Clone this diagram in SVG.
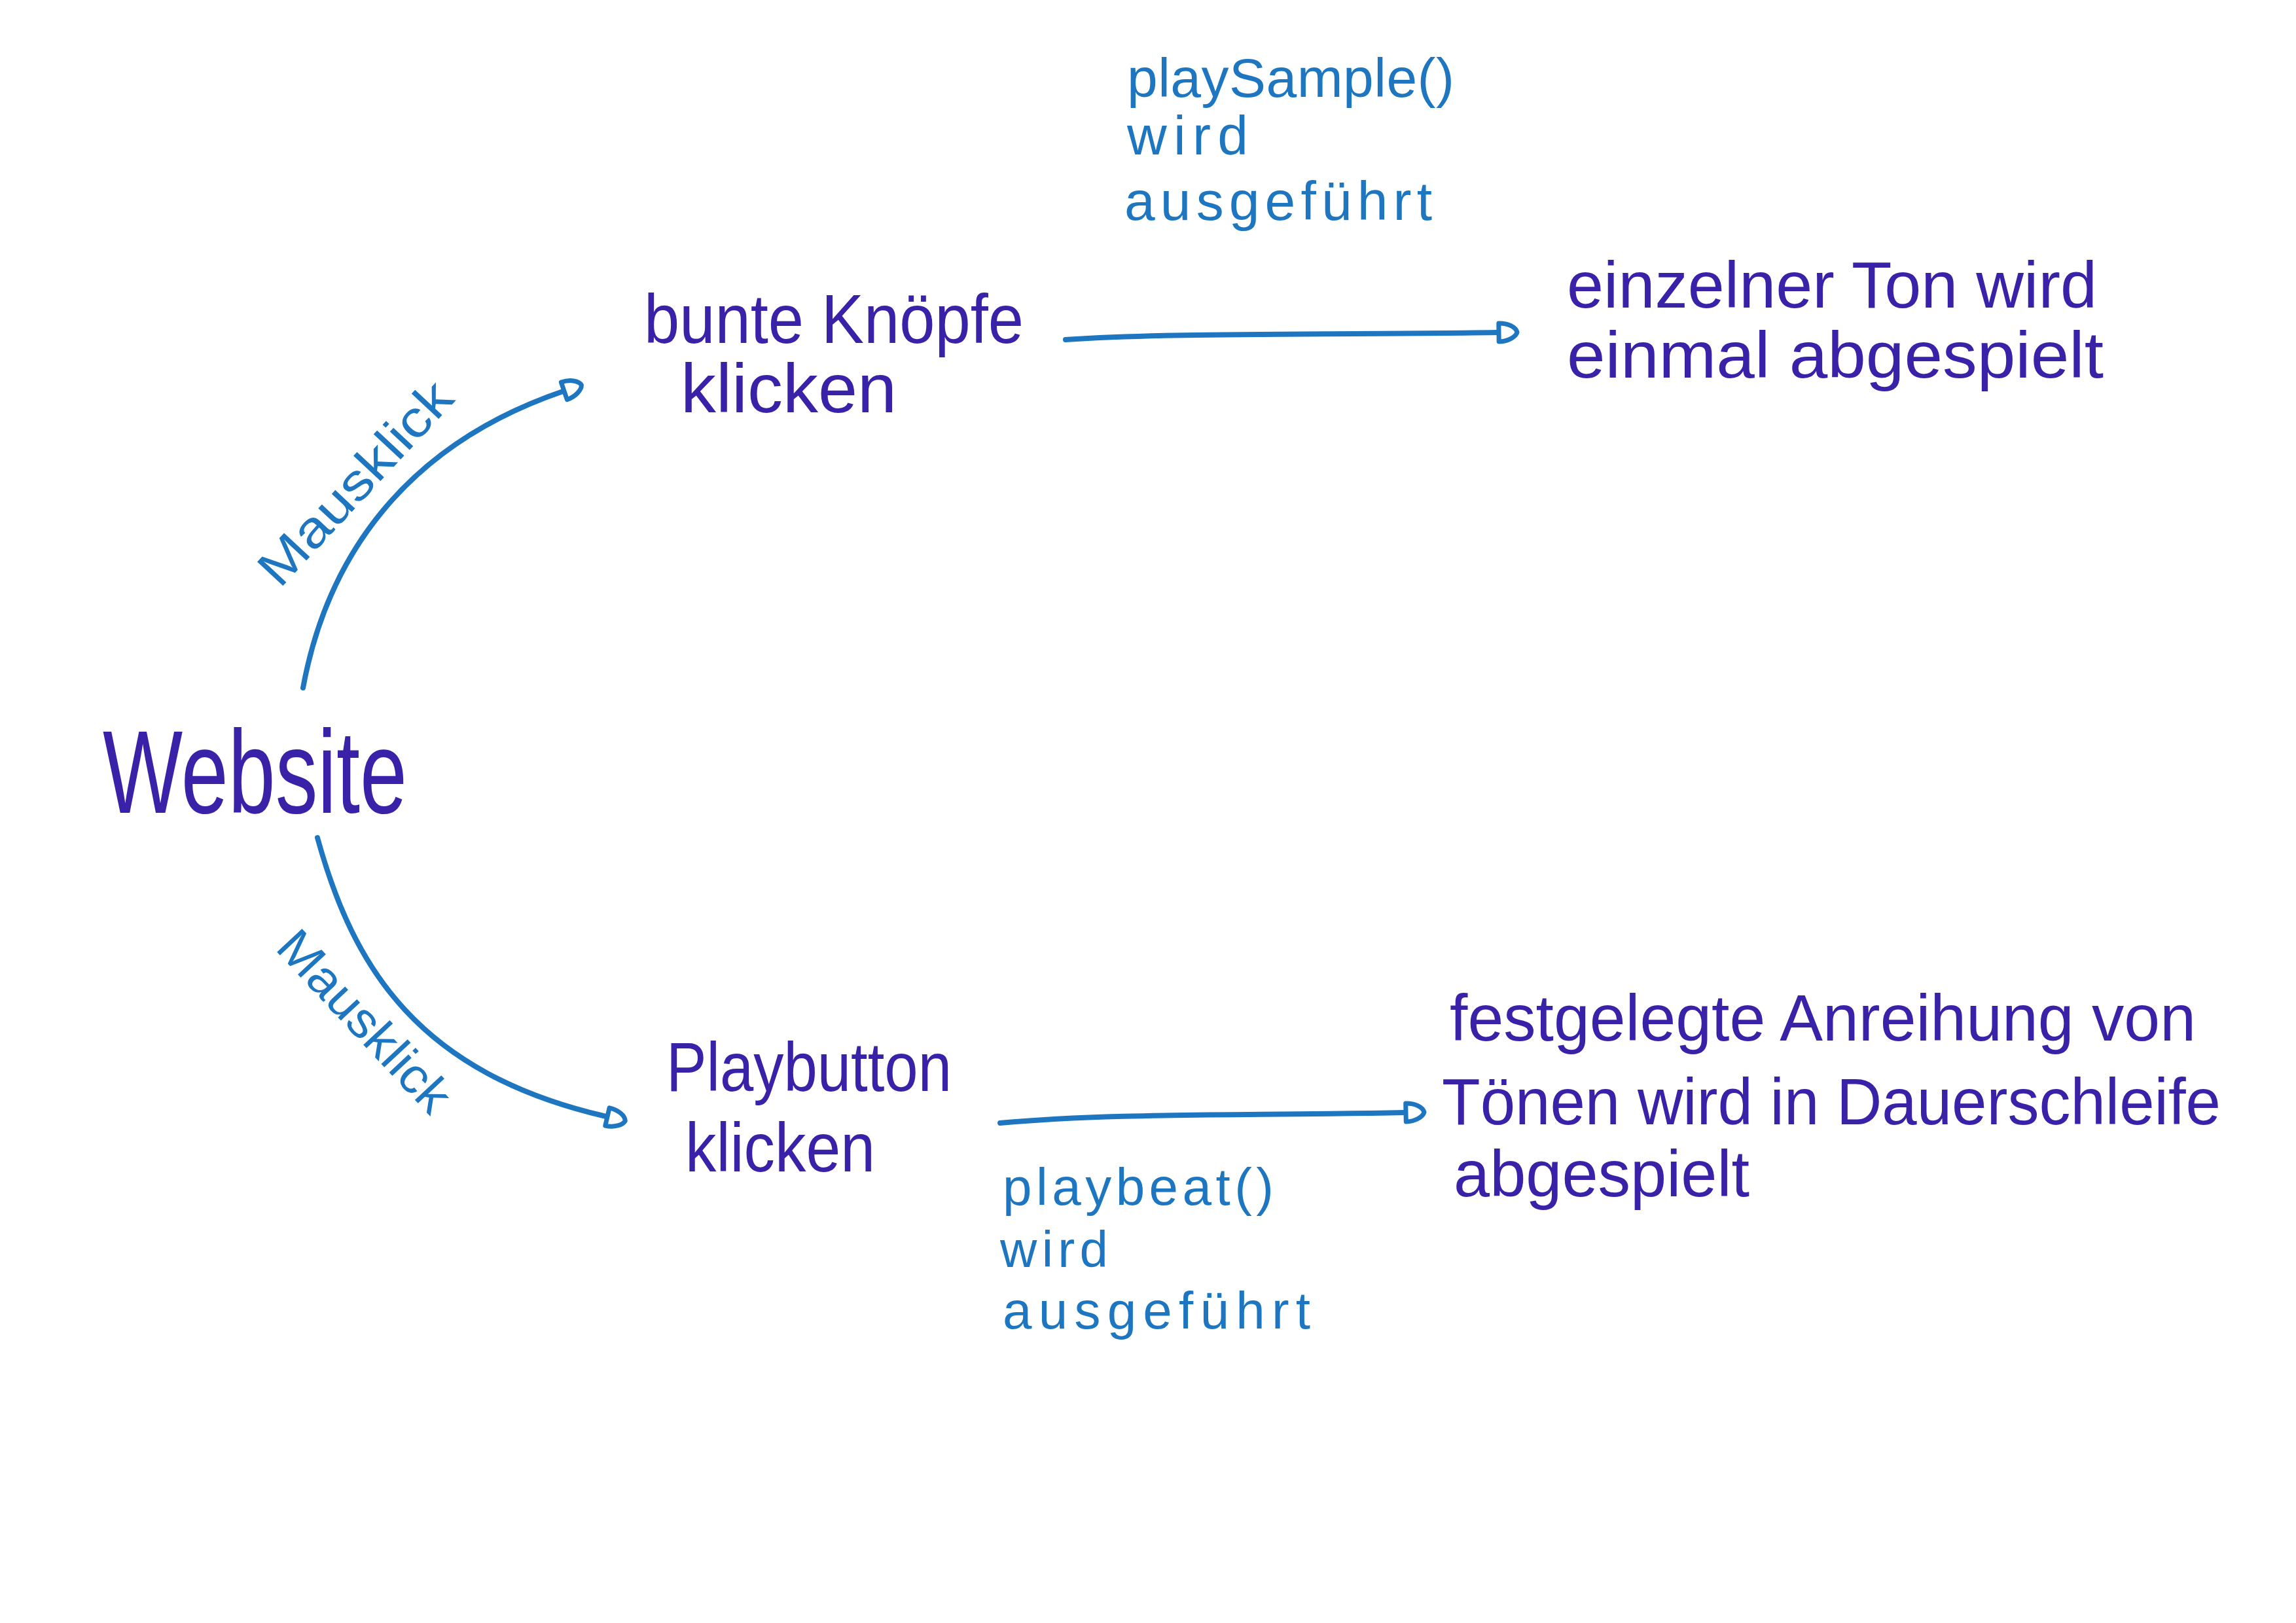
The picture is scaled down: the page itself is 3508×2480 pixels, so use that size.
<svg xmlns="http://www.w3.org/2000/svg" width="3508" height="2480" viewBox="0 0 3508 2480">
<style>
.node{fill:#3a22a8;font-family:"Liberation Sans","DejaVu Sans",sans-serif;}
.lbl{fill:#1d76bf;font-family:"Liberation Sans","DejaVu Sans",sans-serif;}
.conn{fill:none;stroke:#1d76bf;stroke-width:8;stroke-linecap:round;}
</style>
<defs>
<marker id="dhead" markerUnits="userSpaceOnUse" markerWidth="50" markerHeight="50" refX="2" refY="20" orient="auto" viewBox="0 0 50 50">
<path d="M4,6 L4,34 C18,34 30,27 32,20 C30,12 18,6 4,6 Z" fill="none" stroke="#1d76bf" stroke-width="7" stroke-linejoin="round"/>
</marker>
</defs>
<rect width="3508" height="2480" fill="#ffffff"/>
<g id="connectors">
<path class="conn" d="M463,1051 C500,850 620,680 860,598" marker-end="url(#dhead)"/>
<path class="conn" d="M1628,519 C1800,508 2000,512 2288,508" marker-end="url(#dhead)"/>
<path class="conn" d="M485,1280 C540,1480 640,1640 926,1706" marker-end="url(#dhead)"/>
<path class="conn" d="M1528,1716 C1700,1700 1900,1705 2146,1700" marker-end="url(#dhead)"/>
<text class="lbl" font-size="78" transform="translate(562,756) rotate(-47)" text-anchor="middle" textLength="395" lengthAdjust="spacingAndGlyphs">Mausklick</text>
<text class="lbl" font-size="76" transform="translate(538,1578) rotate(47)" text-anchor="middle" textLength="350" lengthAdjust="spacingAndGlyphs">Mausklick</text>
<g id="label-playSample">
<text class="lbl" font-size="84" x="1722" y="148" textLength="500" lengthAdjust="spacing">playSample()</text>
<text class="lbl" font-size="84" x="1722" y="236" textLength="185" lengthAdjust="spacing">wird</text>
<text class="lbl" font-size="84" x="1718" y="336" textLength="470" lengthAdjust="spacing">ausgeführt</text>
</g>
<g id="label-playbeat">
<text class="lbl" font-size="80" x="1532" y="1841" textLength="414" lengthAdjust="spacing">playbeat()</text>
<text class="lbl" font-size="78" x="1528" y="1936" textLength="165" lengthAdjust="spacing">wird</text>
<text class="lbl" font-size="80" x="1532" y="2030" textLength="470" lengthAdjust="spacing">ausgeführt</text>
</g>
</g>
<g id="website">
<text class="node" font-size="180" x="157" y="1242" textLength="465" lengthAdjust="spacingAndGlyphs">Website</text>
</g>
<g id="bunte-knoepfe">
<text class="node" font-size="105" x="984" y="524" textLength="580" lengthAdjust="spacingAndGlyphs">bunte Knöpfe</text>
<text class="node" font-size="105" x="1040" y="630" textLength="330" lengthAdjust="spacingAndGlyphs">klicken</text>
</g>
<g id="einzelner-ton">
<text class="node" font-size="100" x="2394" y="470" textLength="810" lengthAdjust="spacingAndGlyphs">einzelner Ton wird</text>
<text class="node" font-size="100" x="2394" y="577" textLength="820" lengthAdjust="spacingAndGlyphs">einmal abgespielt</text>
</g>
<g id="playbutton">
<text class="node" font-size="105" x="1018" y="1667" textLength="436" lengthAdjust="spacingAndGlyphs">Playbutton</text>
<text class="node" font-size="105" x="1047" y="1790" textLength="290" lengthAdjust="spacingAndGlyphs">klicken</text>
</g>
<g id="dauerschleife">
<text class="node" font-size="100" x="2215" y="1590" textLength="1140" lengthAdjust="spacingAndGlyphs">festgelegte Anreihung von</text>
<text class="node" font-size="100" x="2203" y="1718" textLength="1190" lengthAdjust="spacingAndGlyphs">Tönen wird in Dauerschleife</text>
<text class="node" font-size="100" x="2221" y="1828" textLength="452" lengthAdjust="spacingAndGlyphs">abgespielt</text>
</g>
</svg>
